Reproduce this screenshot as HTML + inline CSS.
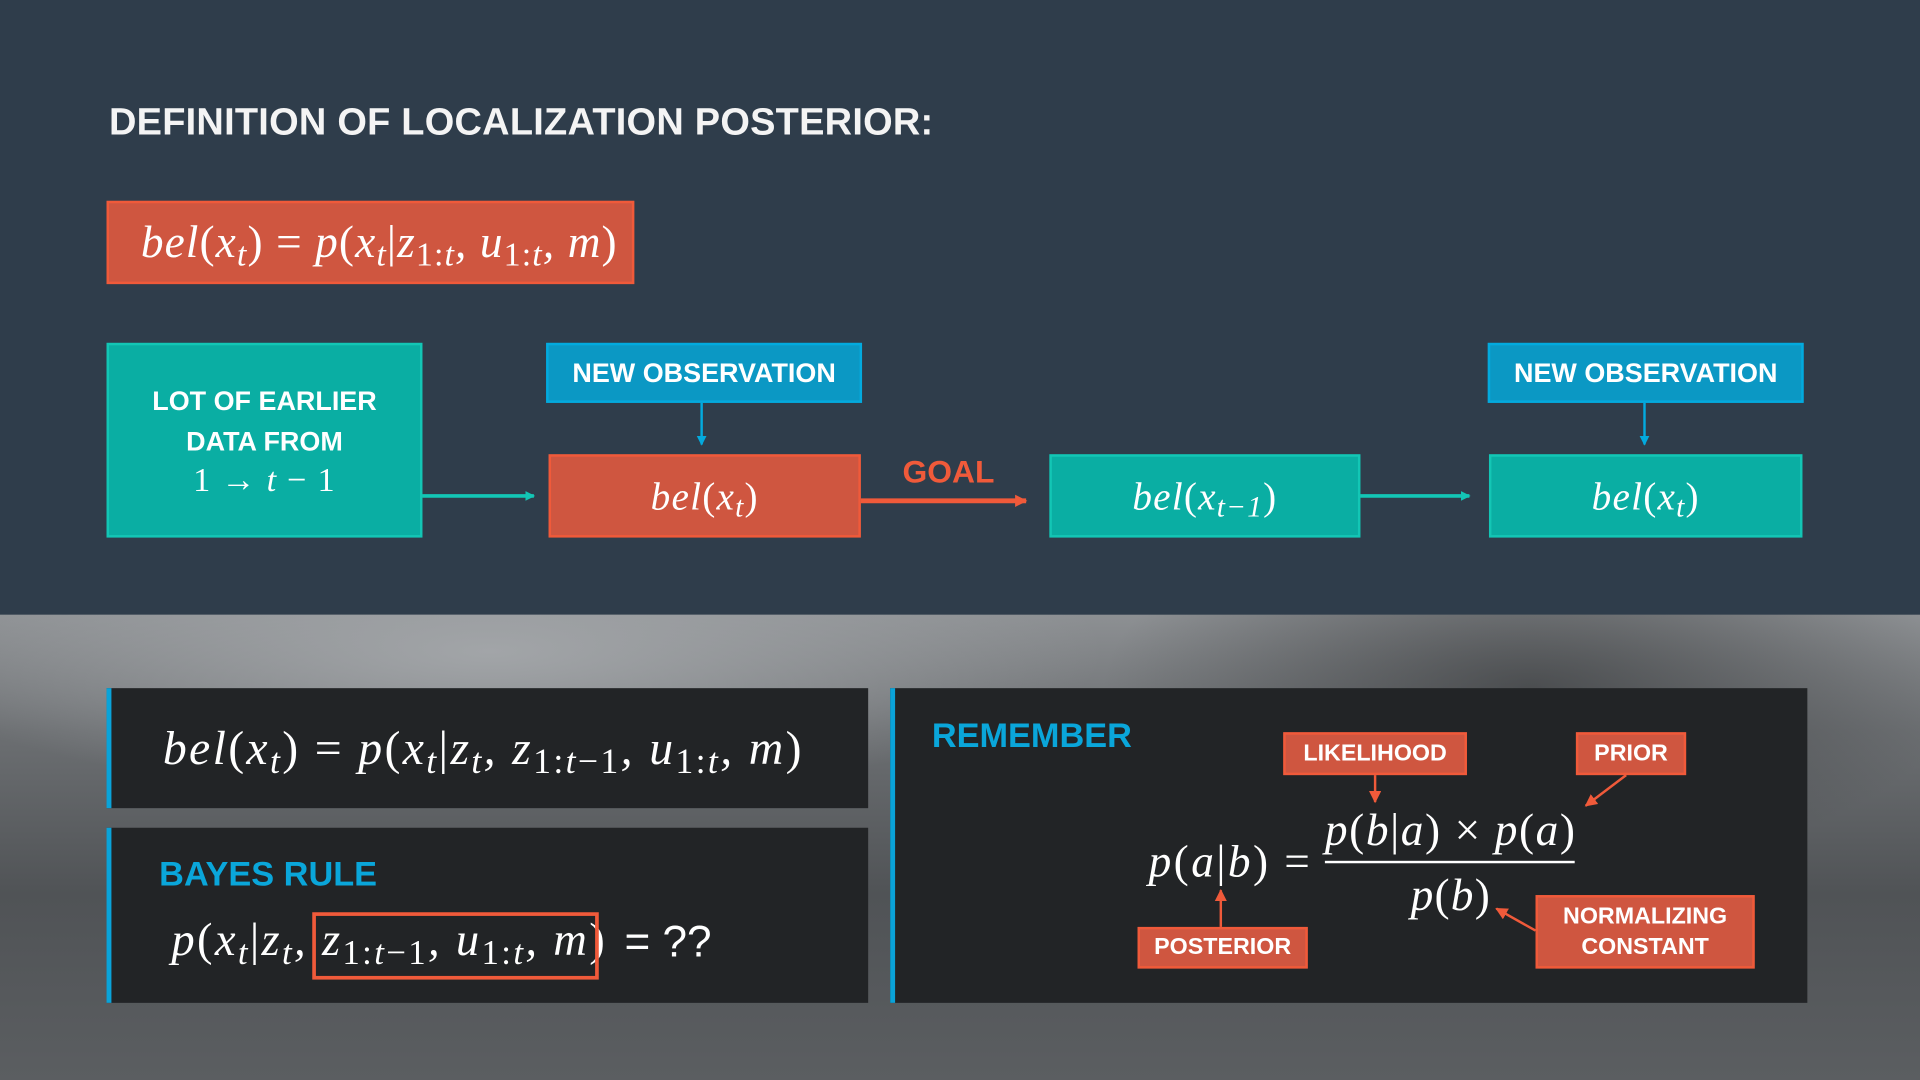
<!DOCTYPE html>
<html><head><meta charset="utf-8"><style>
html,body{margin:0;padding:0;width:1920px;height:1080px;overflow:hidden;background:#2f3d4b}
#s{position:absolute;left:0;top:0;width:1568px;height:882px;transform:scale(1.2244898);transform-origin:0 0;font-family:"Liberation Sans",sans-serif;color:#fff}
.a{position:absolute;box-sizing:border-box}
.m{font-family:"Liberation Serif",serif;font-style:italic;white-space:nowrap;letter-spacing:1px}
.m .u{font-style:normal}
sub{font-size:75%;vertical-align:-0.25em;line-height:0}
.c{display:flex;align-items:center;justify-content:center;text-align:center}
.red{background:#cf5640;border:2px solid #f05a3a}
.teal{background:#0aaea3;border:2px solid #13c6b5}
.blue{background:#0b98c4;border:2px solid #03aade}
.lab{font-weight:bold;font-size:19px;color:#fff}
.panel{background:#222426;border-left:4px solid #0aa3d9}
</style></head><body><div id="s">
<div class="a" style="left:0;top:502px;width:1568px;height:380px;background:
radial-gradient(ellipse 500px 120px at 400px 30px,#a2a5a8,rgba(150,153,156,0) 100%),
radial-gradient(ellipse 350px 150px at 1250px 60px,rgba(45,47,49,0.6),rgba(40,42,44,0)),
linear-gradient(180deg,#8d9093 0%,#6c6f72 25%,#505356 60%,#5b5e61 100%)"></div>
<div class="a" style="left:89px;top:82px;font-size:31px;font-weight:bold;letter-spacing:0.2px;color:#f4f4f4">DEFINITION OF LOCALIZATION POSTERIOR:</div>
<div class="a red" style="left:87px;top:164px;width:431px;height:68px;padding-left:26px;display:flex;align-items:center"><span class="m" style="font-size:37px;letter-spacing:0.9px">bel<span class="u">(</span>x<sub>t</sub><span class="u">) = </span>p<span class="u">(</span>x<sub>t</sub><span class="u">|</span>z<sub class="u">1:<i>t</i></sub>, u<sub class="u">1:<i>t</i></sub>, m<span class="u">)</span></span></div>

<div class="a teal c" style="left:87px;top:280px;width:258px;height:159px;flex-direction:column"><div class="lab" style="font-size:22px;line-height:33px">LOT OF EARLIER<br>DATA FROM</div><div class="m" style="font-size:28px;font-style:normal">1 → <i>t</i> − 1</div></div>
<div class="a blue c lab" style="left:446px;top:280px;width:258px;height:49px;font-size:22px">NEW OBSERVATION</div>
<div class="a red c" style="left:448px;top:371px;width:255px;height:68px"><span class="m" style="font-size:32px">bel<span class="u">(</span>x<sub>t</sub><span class="u">)</span></span></div>
<div class="a" style="left:737px;top:370px;font-size:26px;font-weight:bold;color:#f05a3a">GOAL</div>
<div class="a teal c" style="left:857px;top:371px;width:254px;height:68px"><span class="m" style="font-size:32px">bel<span class="u">(</span>x<sub>t−1</sub><span class="u">)</span></span></div>
<div class="a blue c lab" style="left:1215px;top:280px;width:258px;height:49px;font-size:22px">NEW OBSERVATION</div>
<div class="a teal c" style="left:1216px;top:371px;width:256px;height:68px"><span class="m" style="font-size:32px">bel<span class="u">(</span>x<sub>t</sub><span class="u">)</span></span></div>

<div class="a panel" style="left:87px;top:562px;width:622px;height:98px;padding-left:42px;display:flex;align-items:center"><span class="m" style="font-size:39px;letter-spacing:1.9px">bel<span class="u">(</span>x<sub>t</sub><span class="u">) = </span>p<span class="u">(</span>x<sub>t</sub><span class="u">|</span>z<sub>t</sub>, z<sub class="u">1:<i>t</i>−1</sub>, u<sub class="u">1:<i>t</i></sub>, m<span class="u">)</span></span></div>
<div class="a panel" style="left:87px;top:676px;width:622px;height:143px"></div>
<div class="a" style="left:130px;top:698px;font-size:28px;font-weight:bold;color:#0aa6da">BAYES RULE</div>
<div class="a" style="left:140px;top:746px;white-space:nowrap"><span class="m" style="font-size:38px;letter-spacing:1.9px">p<span class="u">(</span>x<sub>t</sub><span class="u">|</span>z<sub>t</sub>,&nbsp;z<sub class="u">1:<i>t</i>−1</sub>, u<sub class="u">1:<i>t</i></sub>, m<span class="u">)</span></span></div>
<div class="a" style="left:510px;top:748px;font-size:36px">= ??</div>
<div class="a" style="left:255px;top:745px;width:234px;height:55px;border:3px solid #f05a3a"></div>

<div class="a panel" style="left:727px;top:562px;width:749px;height:257px"></div>
<div class="a" style="left:761px;top:585px;font-size:28px;font-weight:bold;color:#0aa6da">REMEMBER</div>
<div class="a red c lab" style="left:1048px;top:598px;width:150px;height:35px">LIKELIHOOD</div>
<div class="a red c lab" style="left:1287px;top:598px;width:90px;height:35px">PRIOR</div>
<div class="a red c lab" style="left:929px;top:757px;width:139px;height:34px">POSTERIOR</div>
<div class="a red c lab" style="left:1254px;top:731px;width:179px;height:60px;line-height:25px">NORMALIZING<br>CONSTANT</div>
<div class="a m" style="left:938px;top:683px;font-size:37px;letter-spacing:2px">p<span class="u">(</span>a<span class="u">|</span>b<span class="u">) =</span></div>
<div class="a m" style="left:1082px;top:657px;font-size:37px;letter-spacing:1.3px">p<span class="u">(</span>b<span class="u">|</span>a<span class="u">) × </span>p<span class="u">(</span>a<span class="u">)</span></div>
<div class="a" style="left:1082px;top:703px;width:204px;height:2px;background:#fff"></div>
<div class="a m" style="left:1152px;top:710px;font-size:37px">p<span class="u">(</span>b<span class="u">)</span></div>

<svg class="a" style="left:0;top:0" width="1568" height="882">
<defs>
<marker id="t" markerWidth="8" markerHeight="8" refX="7" refY="4" orient="auto" markerUnits="userSpaceOnUse"><path d="M0,0L8,4L0,8Z" fill="#13c6b5"/></marker>
<marker id="r" markerWidth="10" markerHeight="10" refX="9" refY="5" orient="auto" markerUnits="userSpaceOnUse"><path d="M0,0L10,5L0,10Z" fill="#f05a3a"/></marker>
<marker id="b" markerWidth="8" markerHeight="8" refX="7" refY="4" orient="auto" markerUnits="userSpaceOnUse"><path d="M0,0L8,4L0,8Z" fill="#03aade"/></marker>
</defs>
<g stroke-width="3" fill="none">
<line x1="345" y1="405" x2="436" y2="405" stroke="#13c6b5" marker-end="url(#t)"/>
<line x1="1111" y1="405" x2="1200" y2="405" stroke="#13c6b5" marker-end="url(#t)"/>
<line x1="703" y1="409" x2="838" y2="409" stroke="#f05a3a" stroke-width="4" marker-end="url(#r)"/>
<line x1="573" y1="329" x2="573" y2="363" stroke="#03aade" stroke-width="2" marker-end="url(#b)"/>
<line x1="1343" y1="329" x2="1343" y2="363" stroke="#03aade" stroke-width="2" marker-end="url(#b)"/>
<line x1="1123" y1="633" x2="1123" y2="655" stroke="#f05a3a" stroke-width="2" marker-end="url(#r)"/>
<line x1="1328" y1="633" x2="1295" y2="658" stroke="#f05a3a" stroke-width="2" marker-end="url(#r)"/>
<line x1="997" y1="757" x2="997" y2="727" stroke="#f05a3a" stroke-width="2" marker-end="url(#r)"/>
<line x1="1254" y1="760" x2="1222" y2="742" stroke="#f05a3a" stroke-width="2" marker-end="url(#r)"/>
</g></svg>
</div></body></html>
